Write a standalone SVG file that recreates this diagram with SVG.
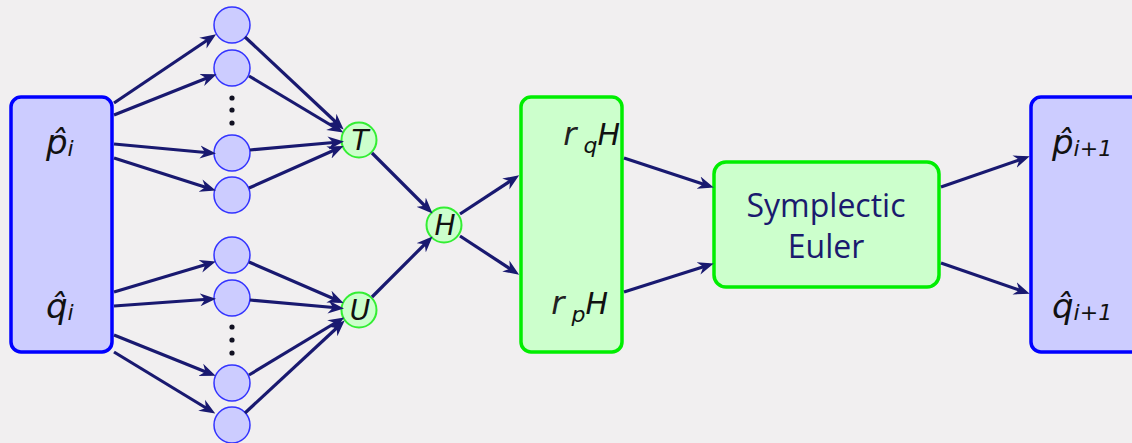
<svg xmlns="http://www.w3.org/2000/svg" width="1132" height="443" viewBox="0 0 1132 443">
  <defs>
    <marker id="arr" viewBox="0 -7 16 14" markerWidth="16" markerHeight="14" markerUnits="userSpaceOnUse" refX="11" refY="0" orient="auto">
      <path d="M0,-6.5 L16,0 L0,6.5 L5,0 z" fill="#191970"/>
    </marker>
    <style>
      .bg { fill: #f1eff0; }
      .io { fill: #ccccff; stroke: #0000ff; stroke-width: 3.5; }
      .grn { fill: #ccffcc; stroke: #00ee00; stroke-width: 3.5; }
      .hid { fill: #ccccff; stroke: #3333ff; stroke-width: 1.5; }
      .ham { fill: #ccffcc; stroke: #33ee33; stroke-width: 2; }
      .dot { fill: #111122; }
      .math { font-family: "DejaVu Sans", sans-serif; font-style: italic; fill: #111; }
      .nab { font-family: "DejaVu Sans", sans-serif; font-style: italic; font-weight: 200; fill: #222; }
      .lbl { font-family: "Open Sans", "Noto Sans", sans-serif; fill: #1a1a6e; font-size: 32px; text-anchor: middle; }
      #edges line { stroke: #191970; stroke-width: 3.2; marker-end: url(#arr); }
    </style>
  </defs>

  <rect class="bg" x="0" y="0" width="1132" height="443"/>

  <!-- input state -->
  <g id="input">
    <rect class="io" x="11" y="97" width="101" height="255" rx="10"/>
    <text class="math" x="46" y="154" font-size="34">p&#770;<tspan font-size="22" dy="2">i</tspan></text>
    <text class="math" x="46" y="318" font-size="34">q&#770;<tspan font-size="22" dy="2">i</tspan></text>
  </g>

  <!-- kinetic energy network hidden units -->
  <g id="hidden-T">
    <circle class="hid" cx="232" cy="25" r="18"/>
    <circle class="hid" cx="232" cy="68" r="18"/>
    <circle class="dot" cx="232" cy="98" r="2.6"/>
    <circle class="dot" cx="232" cy="110" r="2.6"/>
    <circle class="dot" cx="232" cy="123" r="2.6"/>
    <circle class="hid" cx="232" cy="153" r="18"/>
    <circle class="hid" cx="232" cy="195" r="18"/>
  </g>

  <!-- potential energy network hidden units -->
  <g id="hidden-U">
    <circle class="hid" cx="232" cy="255" r="18"/>
    <circle class="hid" cx="232" cy="298" r="18"/>
    <circle class="dot" cx="232" cy="327" r="2.6"/>
    <circle class="dot" cx="232" cy="340" r="2.6"/>
    <circle class="dot" cx="232" cy="353" r="2.6"/>
    <circle class="hid" cx="232" cy="383" r="18"/>
    <circle class="hid" cx="232" cy="425" r="18"/>
  </g>

  <g id="node-T">
    <circle class="ham" cx="359" cy="140" r="17.5"/>
    <text class="math" x="360" y="150" font-size="28" text-anchor="middle">T</text>
  </g>
  <g id="node-U">
    <circle class="ham" cx="359" cy="310" r="17.5"/>
    <text class="math" x="360" y="320" font-size="28" text-anchor="middle">U</text>
  </g>
  <g id="node-H">
    <circle class="ham" cx="444" cy="225" r="17.5"/>
    <text class="math" x="445" y="235" font-size="28" text-anchor="middle">H</text>
  </g>

  <!-- gradients -->
  <g id="gradients">
    <rect class="grn" x="521" y="97" width="101" height="255" rx="10"/>
    <text x="620" y="145" font-size="30" text-anchor="end"><tspan class="nab" font-size="32">r</tspan><tspan class="math" font-size="22" dy="8"> q</tspan><tspan class="math" dy="-8">H</tspan></text>
    <text x="608" y="314" font-size="30" text-anchor="end"><tspan class="nab" font-size="32">r</tspan><tspan class="math" font-size="22" dy="8"> p</tspan><tspan class="math" dy="-8">H</tspan></text>
  </g>

  <g id="integrator">
    <rect class="grn" x="714" y="162" width="225" height="125" rx="12"/>
    <text class="lbl" x="826" y="217">Symplectic</text>
    <text class="lbl" x="826" y="258">Euler</text>
  </g>

  <!-- output state -->
  <g id="output">
    <rect class="io" x="1031" y="97" width="110" height="255" rx="10"/>
    <text class="math" x="1052" y="154" font-size="34">p&#770;<tspan font-size="22" dy="2">i+1</tspan></text>
    <text class="math" x="1052" y="318" font-size="34">q&#770;<tspan font-size="22" dy="2">i+1</tspan></text>
  </g>

  <g id="edges">
    <line x1="114" y1="103" x2="212" y2="37"/>
    <line x1="114" y1="115" x2="212" y2="76"/>
    <line x1="114" y1="144" x2="211" y2="153"/>
    <line x1="114" y1="158" x2="211" y2="189"/>

    <line x1="114" y1="292" x2="211" y2="263"/>
    <line x1="114" y1="306" x2="211" y2="299"/>
    <line x1="114" y1="335" x2="211" y2="374"/>
    <line x1="114" y1="352" x2="211" y2="411"/>

    <line x1="245" y1="37" x2="340" y2="126"/>
    <line x1="249" y1="76" x2="339" y2="130"/>
    <line x1="250" y1="150" x2="339" y2="142"/>
    <line x1="249" y1="188" x2="339" y2="148"/>

    <line x1="249" y1="262" x2="339" y2="301"/>
    <line x1="250" y1="300" x2="339" y2="308"/>
    <line x1="249" y1="375" x2="340" y2="320"/>
    <line x1="245" y1="413" x2="341" y2="324"/>

    <line x1="372" y1="153" x2="429" y2="210"/>
    <line x1="372" y1="297" x2="429" y2="240"/>

    <line x1="460" y1="214" x2="515" y2="178"/>
    <line x1="460" y1="236" x2="515" y2="272"/>

    <line x1="624" y1="158" x2="709" y2="186"/>
    <line x1="624" y1="292" x2="709" y2="265"/>

    <line x1="941" y1="187" x2="1025" y2="158"/>
    <line x1="941" y1="263" x2="1025" y2="292"/>
  </g>
</svg>
